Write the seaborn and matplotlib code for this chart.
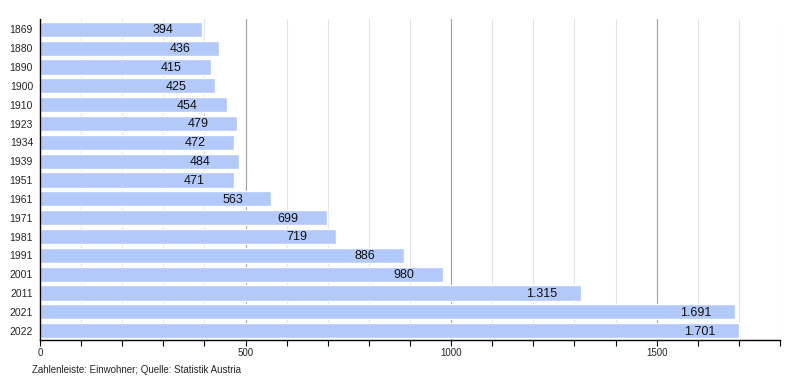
import matplotlib.pyplot as plt
import seaborn as sns
import pandas as pd
from matplotlib.ticker import MultipleLocator

years = ['1869', '1880', '1890', '1900', '1910', '1923', '1934', '1939', '1951',
         '1961', '1971', '1981', '1991', '2001', '2011', '2021', '2022']
population = [394, 436, 415, 425, 454, 479, 472, 484, 471,
              563, 699, 719, 886, 980, 1315, 1691, 1701]

df = pd.DataFrame({'Jahr': years, 'Einwohner': population})

sns.set_theme(style='white')
plt.rcParams['font.family'] = ['Liberation Sans', 'DejaVu Sans']

fig = plt.figure(figsize=(8, 3.8), dpi=100)
ax = fig.add_axes([0.05, 0.105, 0.925, 0.845])

sns.barplot(data=df, x='Einwohner', y='Jahr', orient='h', color='#b3c9fa',
            saturation=1, width=0.8, ax=ax, zorder=2)

ax.set_xlim(0, 1800)
ax.set_ylim(len(years) - 0.5, -0.55)
ax.xaxis.set_major_locator(MultipleLocator(500))
ax.xaxis.set_minor_locator(MultipleLocator(100))
ax.grid(which='minor', axis='x', color='#e4e4e4', linewidth=0.8, zorder=0)
ax.grid(which='major', axis='x', color='#a0a0a0', linewidth=0.8, zorder=0)
ax.tick_params(axis='x', which='both', direction='out', length=4, width=0.8,
               color='black', labelsize=7, pad=2, bottom=True)
ax.tick_params(axis='y', length=0, labelsize=7.5, pad=5)

for s in ['top', 'right']:
    ax.spines[s].set_visible(False)
for s in ['left', 'bottom']:
    ax.spines[s].set_color('black')
    ax.spines[s].set_linewidth(1)

ax.set_xlabel('')
ax.set_ylabel('')

for i, v in enumerate(population):
    label = f'{v:,}'.replace(',', '.')
    ax.text(v - 95, i + 0.05, label, ha='center', va='center', fontsize=9,
            color='#111111', zorder=3)

fig.text(0.04, 0.012, 'Zahlenleiste: Einwohner; Quelle: Statistik Austria',
         fontsize=7, ha='left', va='bottom')

plt.savefig('out.png', dpi=100)
plt.close()
